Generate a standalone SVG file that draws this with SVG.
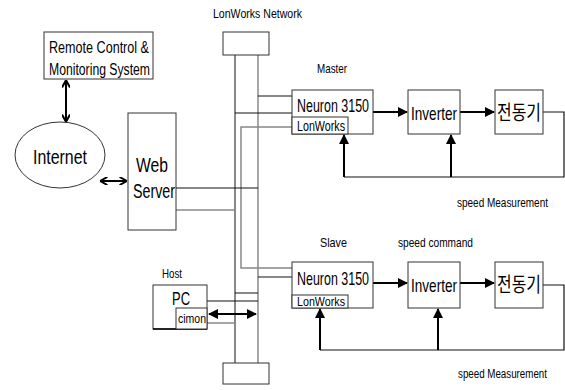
<svg xmlns="http://www.w3.org/2000/svg" width="565" height="390" viewBox="0 0 565 390">
<style>
.box{fill:#fff;stroke:#333;stroke-width:1}
.ln{fill:none;stroke:#111;stroke-width:1}
.gl{fill:none;stroke:#888;stroke-width:1.5}
.ar{fill:none;stroke:#000;stroke-width:2}
.fb{fill:none;stroke:#111;stroke-width:1.2}
text{font-family:"Liberation Sans",Arial,sans-serif;fill:#000}
.ko{font-family:"Noto Sans CJK KR","Liberation Sans",sans-serif}
</style>
<defs>
<marker id="tri" viewBox="0 0 10 10" refX="9" refY="5" markerWidth="5" markerHeight="5" orient="auto-start-reverse" markerUnits="strokeWidth">
<path d="M0,0 L10,5 L0,10 Z" fill="#000"/>
</marker>
<marker id="chev" viewBox="0 0 10 10" refX="9" refY="5" markerWidth="4" markerHeight="4" orient="auto-start-reverse" markerUnits="strokeWidth">
<path d="M1,0 L10,5 L1,10" fill="none" stroke="#000" stroke-width="2.5"/>
</marker>
</defs>

<text x="213" y="18" font-size="12" textLength="89" lengthAdjust="spacingAndGlyphs">LonWorks Network</text>

<g id="connectors">
<line class="ln" x1="235" y1="55" x2="235" y2="363"/>
<line class="gl" x1="258" y1="55" x2="258" y2="363"/>
<line class="ln" x1="258" y1="96" x2="292" y2="96"/>
<line class="ln" x1="235" y1="113" x2="292" y2="113"/>
<polyline class="gl" points="292,127 241,127 241,268 292,268"/>
<line class="ln" x1="258" y1="277" x2="292" y2="277"/>
<line class="ln" x1="235" y1="293" x2="258" y2="293"/>
<line class="ln" x1="176" y1="188" x2="258" y2="188"/>
<line class="gl" x1="176" y1="210" x2="235" y2="210"/>
<line class="ln" x1="207" y1="301" x2="258" y2="301"/>
<line class="gl" x1="207" y1="323" x2="235" y2="323"/>
<line class="ar" x1="209" y1="314" x2="256" y2="314" marker-start="url(#tri)" marker-end="url(#tri)"/>
<line class="ar" x1="66" y1="81" x2="66" y2="121" marker-start="url(#chev)" marker-end="url(#chev)"/>
<line class="ar" x1="101" y1="181" x2="126" y2="181" marker-start="url(#chev)" marker-end="url(#chev)"/>
<line class="ar" x1="373" y1="112" x2="407" y2="112" marker-end="url(#tri)"/>
<line class="ar" x1="460" y1="112" x2="494" y2="112" marker-end="url(#tri)"/>
<polyline class="fb" points="543,112 564,112 564,177 344,177"/>
<line class="ar" x1="344" y1="177" x2="344" y2="135" marker-end="url(#tri)"/>
<line class="ar" x1="451" y1="177" x2="451" y2="135" marker-end="url(#tri)"/>
<line class="ar" x1="373" y1="283" x2="407" y2="283" marker-end="url(#tri)"/>
<line class="ar" x1="460" y1="283" x2="494" y2="283" marker-end="url(#tri)"/>
<polyline class="fb" points="543,285 564,285 564,350 320,350"/>
<line class="ar" x1="320" y1="350" x2="320" y2="309" marker-end="url(#tri)"/>
<line class="ar" x1="438" y1="350" x2="438" y2="309" marker-end="url(#tri)"/>
</g>

<g id="bus-top"><rect class="box" x="223" y="32" width="46" height="23"/></g>
<g id="bus-bottom"><rect class="box" x="223" y="363" width="46" height="21"/></g>

<g id="remote">
<rect class="box" x="44" y="32" width="109" height="47"/>
<text x="49" y="53" font-size="16" textLength="100" lengthAdjust="spacingAndGlyphs">Remote Control &amp;</text>
<text x="49" y="75" font-size="16" textLength="101" lengthAdjust="spacingAndGlyphs">Monitoring System</text>
</g>

<g id="internet">
<ellipse cx="60" cy="155" rx="45" ry="33" fill="#fff" stroke="#333" stroke-width="1"/>
<text x="33" y="164" font-size="21" textLength="54" lengthAdjust="spacingAndGlyphs">Internet</text>
</g>

<g id="webserver">
<rect class="box" x="128" y="113" width="48" height="117"/>
<text x="136" y="172" font-size="20" textLength="32" lengthAdjust="spacingAndGlyphs">Web</text>
<text x="133" y="198" font-size="20" textLength="42" lengthAdjust="spacingAndGlyphs">Server</text>
</g>

<g id="host">
<text x="162" y="278" font-size="13" textLength="20" lengthAdjust="spacingAndGlyphs">Host</text>
<rect class="box" x="153" y="285" width="54" height="44"/>
<line x1="153" y1="329" x2="207" y2="329" stroke="#000" stroke-width="1.5"/>
<text x="172" y="305" font-size="19" textLength="18" lengthAdjust="spacingAndGlyphs">PC</text>
<rect class="box" x="176" y="308" width="31" height="21"/>
<text x="178" y="323" font-size="13" textLength="28" lengthAdjust="spacingAndGlyphs">cimon</text>
</g>

<g id="master">
<text x="317" y="73" font-size="13" textLength="30" lengthAdjust="spacingAndGlyphs">Master</text>
<rect class="box" x="292" y="90" width="81" height="44"/>
<text x="297" y="112" font-size="19" textLength="72" lengthAdjust="spacingAndGlyphs">Neuron 3150</text>
<rect class="box" x="292" y="117" width="56" height="17"/>
<text x="297" y="131" font-size="14" textLength="48" lengthAdjust="spacingAndGlyphs">LonWorks</text>
</g>
<g id="master-inverter">
<rect class="box" x="408" y="90" width="52" height="44"/>
<text x="411" y="120" font-size="19" textLength="46" lengthAdjust="spacingAndGlyphs">Inverter</text>
</g>
<g id="master-motor">
<rect class="box" x="495" y="90" width="48" height="44"/>
<text class="ko" x="497" y="120" font-size="20" textLength="44" lengthAdjust="spacingAndGlyphs">전동기</text>
</g>
<text x="457" y="207" font-size="12" textLength="91" lengthAdjust="spacingAndGlyphs">speed Measurement</text>

<g id="slave">
<text x="320" y="247" font-size="13" textLength="27" lengthAdjust="spacingAndGlyphs">Slave</text>
<rect class="box" x="292" y="262" width="81" height="46"/>
<text x="297" y="285" font-size="19" textLength="72" lengthAdjust="spacingAndGlyphs">Neuron 3150</text>
<rect class="box" x="292" y="295" width="56" height="13"/>
<text x="297" y="306" font-size="13" textLength="48" lengthAdjust="spacingAndGlyphs">LonWorks</text>
</g>
<text x="398" y="247" font-size="13" textLength="75" lengthAdjust="spacingAndGlyphs">speed command</text>
<g id="slave-inverter">
<rect class="box" x="408" y="262" width="52" height="46"/>
<text x="411" y="292" font-size="19" textLength="46" lengthAdjust="spacingAndGlyphs">Inverter</text>
</g>
<g id="slave-motor">
<rect class="box" x="495" y="262" width="48" height="46"/>
<text class="ko" x="497" y="292" font-size="20" textLength="44" lengthAdjust="spacingAndGlyphs">전동기</text>
</g>
<text x="458" y="378" font-size="12" textLength="89" lengthAdjust="spacingAndGlyphs">speed Measurement</text>
</svg>
